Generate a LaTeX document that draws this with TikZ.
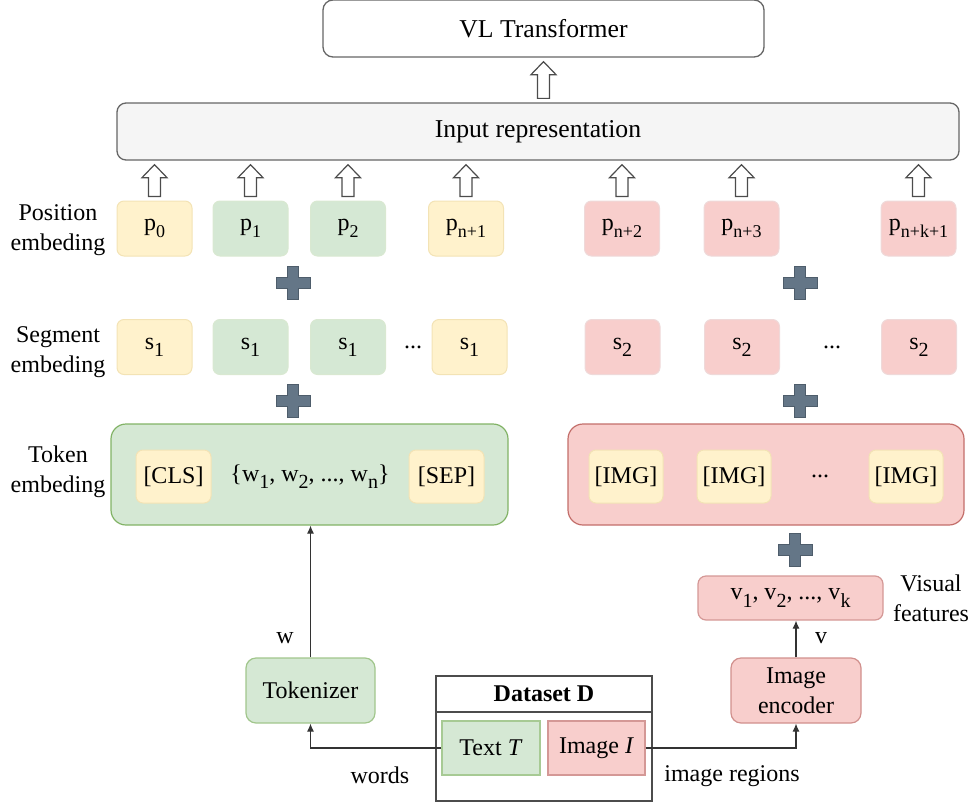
\documentclass[tikz,border=0pt]{standalone}
\usepackage{fontspec}
\setmainfont{Liberation Serif}
\usetikzlibrary{arrows.meta,calc}
\definecolor{yF}{HTML}{FFF2CC}
\definecolor{yD}{HTML}{F3E3B5}
\definecolor{gF}{HTML}{D5E8D4}
\definecolor{gD}{HTML}{82B366}
\definecolor{rF}{HTML}{F8CECC}
\definecolor{rD}{HTML}{B85450}
\definecolor{plusF}{HTML}{647687}
\definecolor{plusD}{HTML}{4E5D6B}
\definecolor{inF}{HTML}{F5F5F5}
\definecolor{edge}{HTML}{666666}
\newcommand{\mysub}[1]{\raisebox{-0.3em}{\fontsize{18}{18}\selectfont #1}}
\newcommand{\bigsub}[1]{\raisebox{-0.3em}{\fontsize{20}{20}\selectfont #1}}
\newcommand{\hollowup}[2]{%
  \draw[hollow] let \p1=(#1), \p2=(#2) in
    (\x1-6pt,\y1+4pt) -- (\x1-6pt,\y2-17pt) -- (\x1-12.5pt,\y2-17pt) -- (\x1,\y2-4pt)
    -- (\x1+12.5pt,\y2-17pt) -- (\x1+6pt,\y2-17pt) -- (\x1+6pt,\y1+4pt) -- cycle;}
\newcommand{\plussign}[2]{%
  \path[plusc] (#1-5.5,#2-16.5) -- (#1+5.5,#2-16.5) -- (#1+5.5,#2-5.5) -- (#1+17,#2-5.5)
    -- (#1+17,#2+5.5) -- (#1+5.5,#2+5.5) -- (#1+5.5,#2+16.5) -- (#1-5.5,#2+16.5)
    -- (#1-5.5,#2+5.5) -- (#1-17,#2+5.5) -- (#1-17,#2-5.5) -- (#1-5.5,#2-5.5) -- cycle;}
\begin{document}
\begin{tikzpicture}[x=1pt,y=-1pt,
  every node/.style={font=\fontsize{24}{30}\selectfont, inner sep=0pt},
  big/.style={font=\fontsize{25.7}{30}\selectfont},
  box/.style={rounded corners=7pt, line width=1pt, minimum width=75pt, minimum height=55pt},
  ybox/.style={box, fill=yF, draw=yD},
  gbox/.style={box, fill=gF, draw=gD!30},
  rbox/.style={box, fill=rF, draw=rD!22},
  hollow/.style={draw=black!70, fill=white, line width=1.2pt, line join=miter},
  conn/.style={draw=black!80, line width=1.1pt, -{Latex[length=8pt,width=7pt]}},
  lbl/.style={align=center},
  plusc/.style={fill=plusF, draw=plusD, line width=0.6pt}]
\useasboundingbox (0,0) rectangle (972,806);

% top boxes
\node[big, draw=edge, fill=white, line width=1.3pt, rounded corners=10pt, minimum width=441pt, minimum height=57pt] (vl) at (543.5,28.5) {VL Transformer};
\node[big, draw=edge, fill=inF, line width=1.3pt, rounded corners=9pt, minimum width=842pt, minimum height=57pt] (inp) at (538,131.5) {Input representation};

% position row
\node[lbl] (lpos) at (58,230) {Position\\embeding};
\node[ybox] (p0) at (154.5,228.5) {p\mysub{0}};
\node[gbox] (p1) at (250.5,228.5) {p\mysub{1}};
\node[gbox] (p2) at (348,228.5) {p\mysub{2}};
\node[ybox] (pn1) at (466,228.5) {p\mysub{n+1}};
\node[rbox] (pn2) at (622,228.5) {p\mysub{n+2}};
\node[rbox] (pn3) at (741.5,228.5) {p\mysub{n+3}};
\node[rbox] (pnk) at (918.5,228.5) {p\mysub{n+k+1}};

% arrows into input representation
\foreach \bn in {p0,p1,p2,pn1,pn2,pn3,pnk}{\hollowup{\bn.north}{inp.south}}
\hollowup{inp.north -| vl.south}{vl.south}

% plus signs
\plussign{293}{283}
\plussign{800}{283}
\plussign{293}{401}
\plussign{800}{401}
\plussign{795}{550}

% segment row
\node[lbl] (lseg) at (58,352) {Segment\\embeding};
\node[ybox] (s1a) at (154.5,347) {s\bigsub{1}};
\node[gbox] (s1b) at (250.5,347) {s\bigsub{1}};
\node[gbox] (s1c) at (348,347) {s\bigsub{1}};
\node (sdots1) at (413,347) {...};
\node[ybox] (s1d) at (469.5,347) {s\bigsub{1}};
\node[rbox] (s2a) at (622.5,347) {s\bigsub{2}};
\node[rbox] (s2b) at (742,347) {s\bigsub{2}};
\node (sdots2) at (832,347) {...};
\node[rbox] (s2c) at (919,347) {s\bigsub{2}};

% token row
\node[lbl] (ltok) at (58,472) {Token\\embeding};
\node[fill=gF, draw=gD, line width=1.2pt, rounded corners=15pt, minimum width=397pt, minimum height=101pt] (tokg) at (309.5,474.5) {};
\node[fill=rF, draw=rD!85, line width=1.2pt, rounded corners=15pt, minimum width=396pt, minimum height=101pt] (tokr) at (766,474.5) {};
\node[ybox, minimum height=53pt] (cls) at (173.5,476.5) {[CLS]};
\node (wseq) at (310,476.5) {\{w\bigsub{1}, w\bigsub{2}, ..., w\bigsub{n}\}};
\node[ybox, minimum height=53pt] (sep) at (446.5,476.5) {[SEP]};
\node[ybox, minimum width=74pt, minimum height=53pt] (img1) at (626,476.5) {[IMG]};
\node[ybox, minimum width=74pt, minimum height=53pt] (img2) at (734,476.5) {[IMG]};
\node (idots) at (820,476.5) {...};
\node[ybox, minimum width=74pt, minimum height=53pt] (img3) at (906,476.5) {[IMG]};

% visual features
\node[fill=rF, draw=rD!60, line width=1.2pt, rounded corners=8pt, minimum width=185pt, minimum height=44pt] (vis) at (790.5,598) {v\bigsub{1}, v\bigsub{2}, ..., v\bigsub{k}};
\node[lbl] (lvis) at (931,598) {Visual\\features};

% encoders
\node[fill=gF, draw=gD!75, line width=1.2pt, rounded corners=10pt, minimum width=129pt, minimum height=65pt] (tok) at (310.5,690.5) {Tokenizer};
\node[fill=rF, draw=rD!65, line width=1.2pt, rounded corners=10pt, minimum width=130pt, minimum height=65pt, align=center] (enc) at (796,690.5) {Image\\encoder};

% dataset
\node[draw=black!70, line width=1.3pt, minimum width=216pt, minimum height=125pt] (ds) at (544,738.5) {};
\coordinate (dsl) at (0,712);
\draw[draw=black!70, line width=1.3pt] (ds.west |- dsl) -- (ds.east |- dsl);
\node[font=\fontsize{24}{30}\selectfont\bfseries] (dst) at (544,694) {Dataset D};
\node[fill=gF, draw=gD!70, line width=1.2pt, minimum width=98pt, minimum height=54pt] (txt) at (491,748) {Text \textit{T}};
\node[fill=rF, draw=rD!60, line width=1.2pt, minimum width=97pt, minimum height=54pt] (im) at (596.5,748) {Image \textit{I}};

% connectors
\draw[conn] (txt.west) -| (tok.south);
\draw[conn] (im.east) -| (enc.south);
\draw[conn] (tok.north) -- (tok.north |- tokg.south);
\draw[conn] (enc.north) -- (enc.north |- vis.south);

% labels
\node (lw) at (285,638) {w};
\node (lv) at (821,638) {v};
\node (lwords) at (380,775) {words};
\node (lregions) at (732,776) {image regions};
\end{tikzpicture}
\end{document}
